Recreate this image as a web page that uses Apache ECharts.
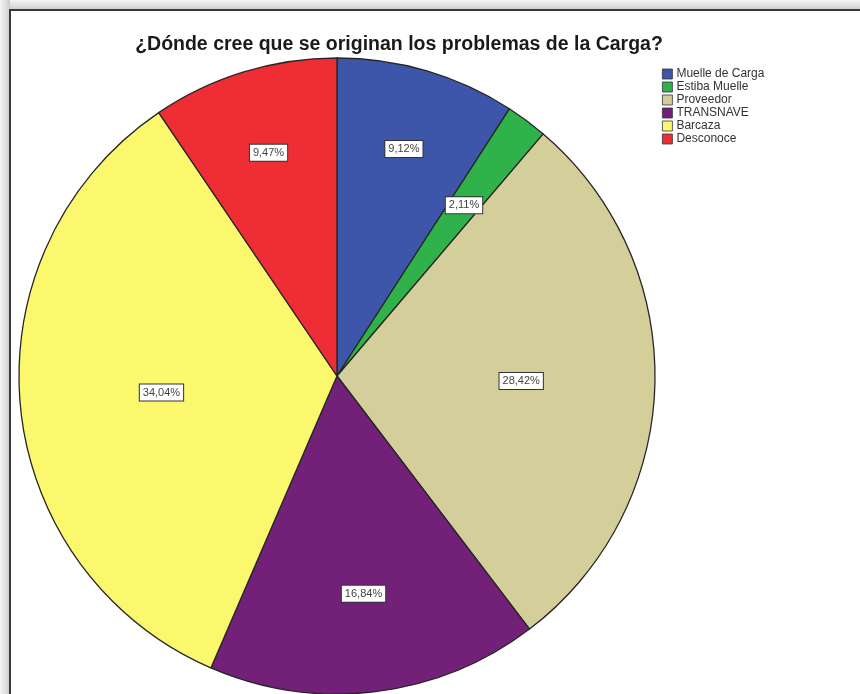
<!DOCTYPE html>
<html>
<head>
<meta charset="utf-8">
<script src="https://cdn.jsdelivr.net/npm/echarts@6/dist/echarts.min.js"></script>
<style>
  html, body { margin: 0; padding: 0; background: #ffffff; }
  #chart { width: 860px; height: 694px; }
</style>
</head>
<body>
<div id="chart"></div>
<script>
// Where respondents think cargo problems originate (percent of answers)
const categories = ['Muelle de Carga', 'Estiba Muelle', 'Proveedor', 'TRANSNAVE', 'Barcaza', 'Desconoce'];
const percentages = [9.12, 2.11, 28.42, 16.84, 34.04, 9.47];
const sliceColors = ['#3e56a9', '#2fb24a', '#d3ce9a', '#732178', '#fbf86e', '#ee2d35'];
// radial position of each value box, as a fraction of the radius
const labelRadius = [0.735, 0.66, 0.57, 0.68, 0.545, 0.725];

const PIE_CENTER = [337, 376];
const PIE_RADIUS = 318;

const chart = echarts.init(document.getElementById('chart'), null, { renderer: 'canvas' });

const total = percentages.reduce((a, b) => a + b, 0);
const midAngles = [];
let acc = 0;
percentages.forEach(v => {
  midAngles.push(((acc + v / 2) / total) * 2 * Math.PI); // clockwise from 12 o'clock
  acc += v;
});

const fmt = v => v.toFixed(2).replace('.', ',') + '%';

chart.setOption({
  animation: false,
  graphic: [
    // soft shading outside the frame
    {
      type: 'rect',
      shape: { x: 0, y: 0, width: 860, height: 10 },
      style: {
        fill: new echarts.graphic.LinearGradient(0, 0, 0, 1, [
          { offset: 0, color: '#f4f4f4' }, { offset: 1, color: '#cccccc' }
        ])
      },
      z: 0
    },
    {
      type: 'rect',
      shape: { x: 0, y: 0, width: 10, height: 694 },
      style: {
        fill: new echarts.graphic.LinearGradient(0, 0, 1, 0, [
          { offset: 0, color: '#f4f4f4' }, { offset: 1, color: '#cccccc' }
        ])
      },
      z: 0
    },
    {
      type: 'rect',
      shape: { x: 10, y: 10, width: 900, height: 720 },
      style: { fill: '#ffffff', stroke: '#3a3a3a', lineWidth: 2 },
      z: 1
    }
  ],
  title: {
    text: '¿Dónde cree que se originan los problemas de la Carga?',
    left: 394,
    textAlign: 'center',
    top: 30,
    textStyle: {
      fontFamily: 'Liberation Sans, Arial, sans-serif',
      fontSize: 19.5,
      fontWeight: 'bold',
      color: '#1a1a1a'
    }
  },
  legend: {
    orient: 'vertical',
    left: 657,
    top: 63,
    itemWidth: 10,
    itemHeight: 10,
    itemGap: 1,
    icon: 'rect',
    selectedMode: false,
    itemStyle: { borderColor: '#333', borderWidth: 0.8 },
    textStyle: {
      fontFamily: 'Liberation Sans, Arial, sans-serif',
      fontSize: 12,
      lineHeight: 12,
      color: '#333',
      padding: [0, 0, 0, -1]
    },
    data: categories
  },
  series: [
    {
      type: 'pie',
      center: PIE_CENTER,
      radius: [0, PIE_RADIUS],
      startAngle: 90,
      clockwise: true,
      z: 3,
      emphasis: { disabled: true },
      itemStyle: { borderColor: '#262626', borderWidth: 1.3 },
      label: {
        show: true,
        position: 'inside',
        formatter: p => fmt(p.value),
        fontFamily: 'Liberation Sans, Arial, sans-serif',
        fontSize: 11,
        color: '#444',
        backgroundColor: '#ffffff',
        borderColor: '#333',
        borderWidth: 1,
        padding: [3, 3, 2, 3]
      },
      labelLine: { show: false },
      labelLayout: function (params) {
        const i = params.dataIndex;
        const shift = (labelRadius[i] - 0.5) * PIE_RADIUS;
        return {
          dx: Math.sin(midAngles[i]) * shift,
          dy: -Math.cos(midAngles[i]) * shift
        };
      },
      data: categories.map((name, i) => ({
        name: name,
        value: percentages[i],
        itemStyle: { color: sliceColors[i] }
      }))
    }
  ]
});
</script>
</body>
</html>
